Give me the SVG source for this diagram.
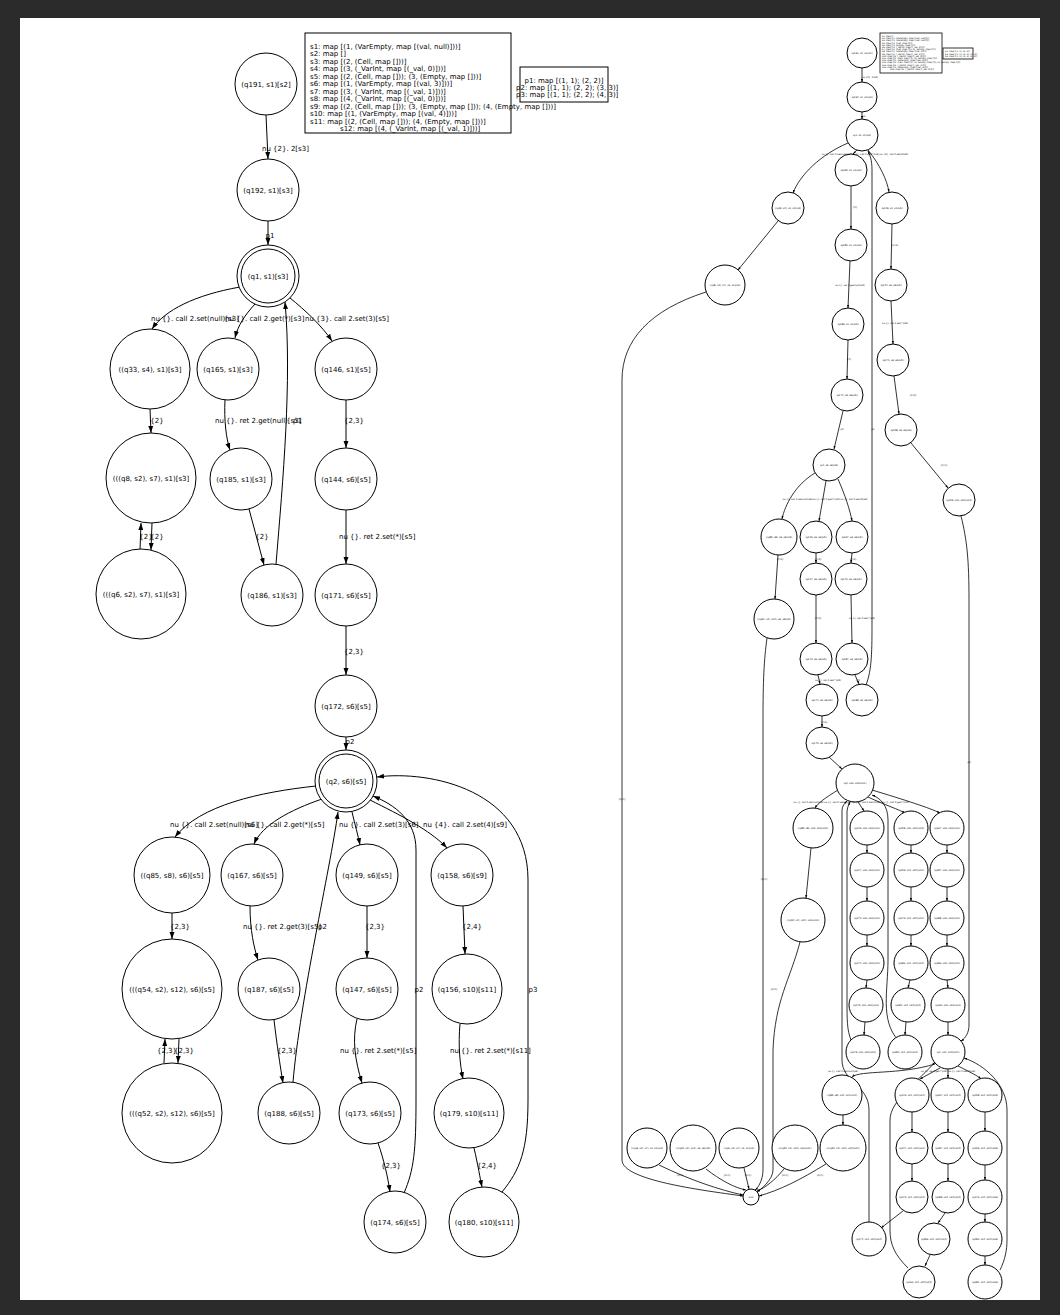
<svg xmlns="http://www.w3.org/2000/svg" width="1060" height="1315" viewBox="0 0 1060 1315">
<defs>
<marker id="a" viewBox="0 0 10 10" refX="10" refY="5" markerWidth="7" markerHeight="7" markerUnits="userSpaceOnUse" orient="auto"><path d="M0,1.5 L10,5 L0,8.5 z" fill="#000"/></marker>
<marker id="b" viewBox="0 0 10 10" refX="10" refY="5" markerWidth="3" markerHeight="3" markerUnits="userSpaceOnUse" orient="auto"><path d="M0,1.5 L10,5 L0,8.5 z" fill="#000"/></marker>
<style>
circle{fill:#fff;stroke:#000;stroke-width:1}
.e path{fill:none;stroke:#000;stroke-width:1;marker-end:url(#a)}
.r path{fill:none;stroke:#000;stroke-width:0.8;marker-end:url(#b)}
text{font-family:"DejaVu Sans","Liberation Sans",sans-serif;font-size:7px;fill:#000}
.c{text-anchor:middle}
.t{font-size:2.4px;text-anchor:middle}
.tl{font-size:2.2px}
.box{fill:#fff;stroke:#000;stroke-width:1}
</style>
</defs>
<rect x="0" y="0" width="1060" height="1315" fill="#2b2b2b"/>
<rect x="20" y="18" width="1020" height="1282" fill="#fff"/>

<g id="legend">
<rect class="box" x="305" y="33" width="206" height="100"/>
<text x="310" y="48.5">s1: map [(1, (VarEmpty, map [(val, null)]))]</text>
<text x="310" y="56">s2: map []</text>
<text x="310" y="63.5">s3: map [(2, (Cell, map []))]</text>
<text x="310" y="71">s4: map [(3, (_VarInt, map [(_val, 0)]))]</text>
<text x="310" y="78.5">s5: map [(2, (Cell, map [])); (3, (Empty, map []))]</text>
<text x="310" y="86">s6: map [(1, (VarEmpty, map [(val, 3)]))]</text>
<text x="310" y="93.5">s7: map [(3, (_VarInt, map [(_val, 1)]))]</text>
<text x="310" y="101">s8: map [(4, (_VarInt, map [(_val, 0)]))]</text>
<text x="310" y="108.5">s9: map [(2, (Cell, map [])); (3, (Empty, map [])); (4, (Empty, map []))]</text>
<text x="310" y="116">s10: map [(1, (VarEmpty, map [(val, 4)]))]</text>
<text x="310" y="123.5">s11: map [(2, (Cell, map [])); (4, (Empty, map []))]</text>
<text x="340" y="131">s12: map [(4, (_VarInt, map [(_val, 1)]))]</text>
</g>
<g id="plegend">
<rect class="box" x="520" y="67" width="88" height="35"/>
<text x="564" y="82.5" class="c">p1: map [(1, 1); (2, 2)]</text>
<text x="516" y="90">p2: map [(1, 1); (2, 2); (3, 3)]</text>
<text x="516" y="96.5">p3: map [(1, 1); (2, 2); (4, 3)]</text>
</g>

<g id="connectors" class="e">
<path d="M266,115 L268,159"/>
<path d="M268,221 L268,245"/>
<path d="M240,287 C195,295 165,310 152,329"/>
<path d="M255,304 C245,315 238,325 235,338"/>
<path d="M290,298 C305,310 322,326 332,341"/>
<path d="M276,564 C283,480 292,380 285,302"/>
<path d="M150,409 L151,433"/>
<path d="M140,550 L141,523"/>
<path d="M152,523 L151,550"/>
<path d="M225,400 C224,420 226,438 230,450"/>
<path d="M249,509 L264,565"/>
<path d="M346,400 L346,448"/>
<path d="M346,510 L346,564"/>
<path d="M346,626 L346,675"/>
<path d="M346,737 L346,750"/>
<path d="M316,786 C260,792 200,805 175,837"/>
<path d="M322,799 C290,810 262,825 254,844"/>
<path d="M352,812 C355,825 358,835 360,845"/>
<path d="M370,800 C400,815 430,830 447,848"/>
<path d="M293,1082 C300,1000 330,870 338,812"/>
<path d="M404,1193 C414,1170 416,1150 416,1100 L416,850 C416,820 395,805 373,796"/>
<path d="M502,1192 C520,1170 528,1150 528,1100 L528,880 C528,790 430,770 377,777"/>
<path d="M172,913 L172,939"/>
<path d="M164,1063 L165,1039"/>
<path d="M179,1039 L178,1063"/>
<path d="M250,906 C250,930 254,948 258,960"/>
<path d="M274,1020 C277,1045 280,1065 283,1083"/>
<path d="M367,906 L367,958"/>
<path d="M357,1019 C352,1040 355,1060 362,1083"/>
<path d="M378,1143 C384,1160 388,1178 390,1192"/>
<path d="M463,906 L465,954"/>
<path d="M460,1024 C458,1045 460,1065 463,1079"/>
<path d="M474,1148 C478,1165 480,1178 482,1187"/>
</g>
<g id="edge-labels">
<text x="262" y="150.5">nu {2}. 2[s3]</text>
<text x="270" y="237.5" class="c">p1</text>
<text x="151" y="320.5">nu {}. call 2.set(null)[s3]</text>
<text x="225" y="320.5">nu {}. call 2.get(*)[s3]</text>
<text x="305" y="320.5">nu {3}. call 2.set(3)[s5]</text>
<text x="157" y="423" class="c">{2}</text>
<text x="215" y="423">nu {}. ret 2.get(null)[s3]</text>
<text x="293" y="423">p1</text>
<text x="354" y="423" class="c">{2,3}</text>
<text x="146" y="539" class="c">{2}</text>
<text x="157" y="539" class="c">{2}</text>
<text x="262" y="539" class="c">{2}</text>
<text x="339" y="539">nu {}. ret 2.set(*)[s5]</text>
<text x="354" y="653.5" class="c">{2,3}</text>
<text x="350" y="743.5" class="c">p2</text>
<text x="170" y="826.5">nu {}. call 2.set(null)[s6]</text>
<text x="245" y="826.5">nu {}. call 2.get(*)[s5]</text>
<text x="339" y="826.5">nu {}. call 2.set(3)[s6]</text>
<text x="423" y="826.5">nu {4}. call 2.set(4)[s9]</text>
<text x="180" y="929" class="c">{2,3}</text>
<text x="243" y="929">nu {}. ret 2.get(3)[s5]</text>
<text x="318" y="929">p2</text>
<text x="375" y="929" class="c">{2,3}</text>
<text x="472" y="929" class="c">{2,4}</text>
<text x="419" y="991.5" class="c">p2</text>
<text x="533" y="991.5" class="c">p3</text>
<text x="167" y="1052.5" class="c">{2,3}</text>
<text x="184" y="1052.5" class="c">{2,3}</text>
<text x="287" y="1052.5" class="c">{2,3}</text>
<text x="340" y="1052.5">nu {}. ret 2.set(*)[s5]</text>
<text x="450" y="1052.5">nu {}. ret 2.set(*)[s11]</text>
<text x="391" y="1167.5" class="c">{2,3}</text>
<text x="487" y="1167.5" class="c">{2,4}</text>
</g>

<g id="q191"><circle cx="266" cy="84" r="31"/><text x="266" y="86.5" class="c">(q191, s1)[s2]</text></g>
<g id="q192"><circle cx="268" cy="190" r="31"/><text x="268" y="192.5" class="c">(q192, s1)[s3]</text></g>
<g id="q1"><circle cx="268" cy="276" r="31"/><circle cx="268" cy="276" r="27"/><text x="268" y="278.5" class="c">(q1, s1)[s3]</text></g>
<g id="q33"><circle cx="150" cy="369" r="40"/><text x="150" y="371.5" class="c">((q33, s4), s1)[s3]</text></g>
<g id="q165"><circle cx="228" cy="369" r="31"/><text x="228" y="371.5" class="c">(q165, s1)[s3]</text></g>
<g id="q146"><circle cx="346" cy="369" r="31"/><text x="346" y="371.5" class="c">(q146, s1)[s5]</text></g>
<g id="q8"><circle cx="151" cy="478" r="45"/><text x="151" y="480.5" class="c">(((q8, s2), s7), s1)[s3]</text></g>
<g id="q185"><circle cx="241" cy="479" r="31"/><text x="241" y="481.5" class="c">(q185, s1)[s3]</text></g>
<g id="q144"><circle cx="346" cy="479" r="31"/><text x="346" y="481.5" class="c">(q144, s6)[s5]</text></g>
<g id="q6"><circle cx="141" cy="594" r="45"/><text x="141" y="596.5" class="c">(((q6, s2), s7), s1)[s3]</text></g>
<g id="q186"><circle cx="272" cy="595" r="31"/><text x="272" y="597.5" class="c">(q186, s1)[s3]</text></g>
<g id="q171"><circle cx="346" cy="595" r="31"/><text x="346" y="597.5" class="c">(q171, s6)[s5]</text></g>
<g id="q172"><circle cx="346" cy="706" r="31"/><text x="346" y="708.5" class="c">(q172, s6)[s5]</text></g>
<g id="q2"><circle cx="346" cy="781" r="31"/><circle cx="346" cy="781" r="27"/><text x="346" y="783.5" class="c">(q2, s6)[s5]</text></g>
<g id="q85"><circle cx="172" cy="875" r="38"/><text x="172" y="877.5" class="c">((q85, s8), s6)[s5]</text></g>
<g id="q167"><circle cx="252" cy="875" r="31"/><text x="252" y="877.5" class="c">(q167, s6)[s5]</text></g>
<g id="q149"><circle cx="367" cy="875" r="31"/><text x="367" y="877.5" class="c">(q149, s6)[s5]</text></g>
<g id="q158"><circle cx="462" cy="875" r="31"/><text x="462" y="877.5" class="c">(q158, s6)[s9]</text></g>
<g id="q54"><circle cx="172" cy="989" r="50"/><text x="172" y="991.5" class="c">(((q54, s2), s12), s6)[s5]</text></g>
<g id="q187"><circle cx="269" cy="989" r="31"/><text x="269" y="991.5" class="c">(q187, s6)[s5]</text></g>
<g id="q147"><circle cx="367" cy="989" r="31"/><text x="367" y="991.5" class="c">(q147, s6)[s5]</text></g>
<g id="q156"><circle cx="467" cy="989" r="35"/><text x="467" y="991.5" class="c">(q156, s10)[s11]</text></g>
<g id="q52"><circle cx="172" cy="1113" r="50"/><text x="172" y="1115.5" class="c">(((q52, s2), s12), s6)[s5]</text></g>
<g id="q188"><circle cx="289" cy="1113" r="31"/><text x="289" y="1115.5" class="c">(q188, s6)[s5]</text></g>
<g id="q173"><circle cx="370" cy="1113" r="31"/><text x="370" y="1115.5" class="c">(q173, s6)[s5]</text></g>
<g id="q179"><circle cx="469" cy="1113" r="35"/><text x="469" y="1115.5" class="c">(q179, s10)[s11]</text></g>
<g id="q174"><circle cx="395" cy="1222" r="31"/><text x="395" y="1224.5" class="c">(q174, s6)[s5]</text></g>
<g id="q180"><circle cx="484" cy="1222" r="35"/><text x="484" y="1224.5" class="c">(q180, s10)[s11]</text></g>

<!-- right graph -->
<g id="r-legend">
<rect x="880" y="33" width="62" height="40" fill="#fff" stroke="#000" stroke-width="0.8"/>
<text class="tl" x="882" y="37">s1: map []</text>
<text class="tl" x="882" y="39.2">s2: map [(1, (VarEmpty, map [(val, null)]))]</text>
<text class="tl" x="882" y="41.4">s3: map [(1, (VarEmpty, map [(val, null)]))]</text>
<text class="tl" x="882" y="43.6">s4: map [(2, (Cell, map []))]</text>
<text class="tl" x="882" y="45.8">s5: map [(3, (Empty, map []))]</text>
<text class="tl" x="882" y="48">s6: map [(3, (_VarInt, map [(_val, 0)]))]</text>
<text class="tl" x="882" y="50.2">s7: map [(2, (Cell, map [])); (3, (Empty, map []))]</text>
<text class="tl" x="882" y="52.4">s8: map [(1, (VarEmpty, map [(val, 3)]))]</text>
<text class="tl" x="882" y="54.6">s9: map [(3, (_VarInt, map [(_val, 1)]))]</text>
<text class="tl" x="882" y="56.8">s10: map [(4, (_VarInt, map [(_val, 0)]))]</text>
<text class="tl" x="882" y="59">s11: map [(2, (Cell, map [])); (4, (Empty, map []))]</text>
<text class="tl" x="882" y="61.2">s12: map [(1, (VarEmpty, map [(val, 4)]))]</text>
<text class="tl" x="882" y="63.4">s13: map [(2, (Cell, map [])); (3, (Empty, map [])); (4, (Empty, map []))]</text>
<text class="tl" x="882" y="65.6">s14: map [(4, (_VarInt, map [(_val, 1)]))]</text>
<text class="tl" x="882" y="67.8">s15: map [(1, (VarEmpty, map [(val, 5)]))]</text>
<text class="tl" x="890" y="70">s16: map [(5, (_VarInt, map [(_val, 0)]))]</text>
<rect x="943" y="48" width="30" height="11" fill="#fff" stroke="#000" stroke-width="0.8"/>
<text class="tl" x="945" y="52">p1: map [(1, 1); (2, 2)]</text>
<text class="tl" x="945" y="54.5">p2: map [(1, 1); (2, 2); (3, 3)]</text>
<text class="tl" x="945" y="57">p3: map [(1, 1); (2, 2); (4, 3)]</text>
</g>

<g id="r-connectors" class="r">
<path d="M862,68 L862,82"/>
<path d="M862,112 L862,119"/>
<path d="M848,143 C820,155 800,175 793,193"/>
<path d="M857,150 L853,154"/>
<path d="M868,150 C880,165 887,180 889,192"/>
<path d="M866,685 C872,670 872,650 872,620 L872,170 C872,160 870,155 868,151"/>
<path d="M778,221 L738,270"/>
<path d="M706,292 C650,310 622,340 622,380 L622,1160 C622,1180 700,1190 743,1196"/>
<path d="M851,186 L851,229"/>
<path d="M850,261 L848,308"/>
<path d="M848,340 L847,379"/>
<path d="M843,411 L834,449"/>
<path d="M892,224 L891,269"/>
<path d="M891,301 L893,344"/>
<path d="M894,376 L899,414"/>
<path d="M911,443 L948,488"/>
<path d="M961,516 C967,540 969,560 969,600 L969,1025 C969,1032 966,1038 961,1041"/>
<path d="M815,473 C795,485 785,505 782,519"/>
<path d="M826,481 L819,521"/>
<path d="M838,479 C845,495 850,510 852,521"/>
<path d="M778,555 L775,599"/>
<path d="M767,638 C764,660 763,680 763,720 L763,1170 C763,1180 758,1188 755,1190"/>
<path d="M816,553 L816,563"/>
<path d="M816,595 L816,643"/>
<path d="M818,675 L820,684"/>
<path d="M822,716 L822,727"/>
<path d="M829,757 L842,769"/>
<path d="M852,553 L851,563"/>
<path d="M851,595 L852,643"/>
<path d="M855,675 L859,684"/>
<path d="M838,790 C825,798 818,803 815,808"/>
<path d="M858,802 L864,811"/>
<path d="M868,797 C885,805 900,810 905,813"/>
<path d="M872,790 C905,800 930,808 940,813"/>
<path d="M811,848 L806,898"/>
<path d="M800,942 C790,980 775,1000 773,1050 L773,1170 C773,1180 760,1190 757,1192"/>
<path d="M867,845 L867,853"/>
<path d="M867,887 L867,901"/>
<path d="M867,935 L867,946"/>
<path d="M867,980 L866,988"/>
<path d="M865,1022 L864,1035"/>
<path d="M911,845 L911,853"/>
<path d="M911,887 L911,901"/>
<path d="M911,935 L911,946"/>
<path d="M910,980 L908,988"/>
<path d="M906,1022 L905,1035"/>
<path d="M947,845 L947,853"/>
<path d="M947,887 L947,901"/>
<path d="M947,935 L947,946"/>
<path d="M947,980 L948,988"/>
<path d="M948,1022 L948,1035"/>
<path d="M869,1222 L869,1110 C869,1085 842,1082 842,1060 L842,810 C842,806 845,803 847,801"/>
<path d="M851,1040 C847,1030 847,1020 847,1000 L847,812 C847,808 849,804 850,802"/>
<path d="M898,1040 C880,1020 888,990 888,960 L888,820 C888,805 880,798 872,795"/>
<path d="M935,1064 C900,1075 860,1070 852,1077"/>
<path d="M940,1068 L920,1079"/>
<path d="M948,1069 L948,1078"/>
<path d="M958,1066 C970,1072 978,1076 981,1079"/>
<path d="M843,1115 L843,1125"/>
<path d="M912,1112 L912,1132"/>
<path d="M912,1164 L912,1181"/>
<path d="M948,1112 L948,1132"/>
<path d="M948,1164 L948,1181"/>
<path d="M985,1112 L985,1131"/>
<path d="M985,1165 L985,1180"/>
<path d="M903,1211 L881,1228"/>
<path d="M945,1213 L938,1223"/>
<path d="M930,1255 L925,1266"/>
<path d="M985,1214 L985,1222"/>
<path d="M985,1256 L985,1265"/>
<path d="M908,1268 C895,1255 890,1245 890,1230 L890,1120 C890,1100 920,1080 935,1062"/>
<path d="M1000,1270 C1005,1260 1007,1250 1007,1240 L1007,1110 C1007,1085 985,1065 964,1058"/>
<path d="M659,1165 C690,1180 720,1190 743,1195"/>
<path d="M706,1169 C720,1180 735,1188 746,1190"/>
<path d="M744,1168 L749,1189"/>
<path d="M784,1169 C775,1180 765,1188 757,1191"/>
<path d="M826,1164 C800,1180 780,1190 759,1196"/>
</g>
<g id="r-labels">
<text class="t" x="870" y="78">nu {2}. 2[s3]</text>
<text class="t" x="864" y="117">p1</text>
<text class="t" x="865" y="155">nu {}. call 2.set(null)[s3]nu {}. call 2.get(*)[s3] nu {3}. call 2.set(3)[s5]</text>
<text class="t" x="855" y="208">{2}</text>
<text class="t" x="895" y="246">{2,3}</text>
<text class="t" x="850" y="286">nu {}. ret 2.get(null)[s3]</text>
<text class="t" x="895" y="324">nu {}. ret 2.set(*)[s5]</text>
<text class="t" x="849" y="360">{2}</text>
<text class="t" x="913" y="396">{2,3}</text>
<text class="t" x="842" y="430">p2</text>
<text class="t" x="944" y="466">{2,4}</text>
<text class="t" x="873" y="430">p1</text>
<text class="t" x="825" y="500">nu {}. call 2.set(null)[s6]nu {}. call 2.get(*)[s5] nu {}. call 2.set(3)[s6]</text>
<text class="t" x="780" y="560">{2,3}</text>
<text class="t" x="818" y="560">{2,3}</text>
<text class="t" x="853" y="560">{2,3}</text>
<text class="t" x="818" y="619">{2,3}</text>
<text class="t" x="862" y="619">nu {}. ret 2.set(*)[s5]</text>
<text class="t" x="828" y="681">nu {}. ret 2.set(*)[s5]</text>
<text class="t" x="858" y="681">{2}</text>
<text class="t" x="824" y="723">{2,3}</text>
<text class="t" x="851" y="803">nu {}. call 2.set(null)[s6] nu {}. call 2.set(3)[s6] nu {4}. call 2.set(4)[s9] nu {}. call 2.get(*)[s5]</text>
<text class="t" x="969" y="763">p3</text>
<text class="t" x="843" y="1072">nu {}. call 2.set(null)[s6]</text>
<text class="t" x="948" y="1072">nu {}. ret 2.get(*)[s5] nu {}. call 2.set(4)[s9]</text>
<text class="t" x="622" y="800">{3,4}</text>
<text class="t" x="764" y="880">{3,4}</text>
<text class="t" x="774" y="990">{3,4}</text>
<text class="t" x="680" y="1176">{3,4}</text>
<text class="t" x="727" y="1176">{3,4}</text>
<text class="t" x="748" y="1176">{3,4}</text>
<text class="t" x="785" y="1176">{3,4}</text>
<text class="t" x="820" y="1176">{3,4}</text>
</g>

<g id="r-nodes">
<g id="R1"><circle cx="862" cy="53" r="15" stroke-width="0.8"/><text class="t" x="862" y="54">(q191, s1, s1)[s2]</text></g>
<g id="R2"><circle cx="862" cy="97" r="15" stroke-width="0.8"/><text class="t" x="862" y="98">(q192, s1, s1)[s3]</text></g>
<g id="R3"><circle cx="862" cy="135" r="16" stroke-width="1.6"/><text class="t" x="862" y="136">(q1, s1, s1)[s3]</text></g>
<g id="A1"><circle cx="788" cy="208" r="16" stroke-width="0.8"/><text class="t" x="788" y="209">((q33, s4), s1, s1)[s3]</text></g>
<g id="A2"><circle cx="725" cy="285" r="20" stroke-width="0.8"/><text class="t" x="725" y="286">(((q8, s2), s7), s1, s1)[s3]</text></g>
<g id="B1"><circle cx="851" cy="170" r="16" stroke-width="0.8"/><text class="t" x="851" y="171">(q165, s1, s1)[s3]</text></g>
<g id="B2"><circle cx="851" cy="245" r="16" stroke-width="0.8"/><text class="t" x="851" y="246">(q185, s1, s1)[s3]</text></g>
<g id="B3"><circle cx="848" cy="324" r="16" stroke-width="0.8"/><text class="t" x="848" y="325">(q186, s1, s1)[s3]</text></g>
<g id="B4"><circle cx="847" cy="395" r="16" stroke-width="0.8"/><text class="t" x="847" y="396">(q172, s6, s6)[s5]</text></g>
<g id="B5"><circle cx="829" cy="465" r="16" stroke-width="1.6"/><text class="t" x="829" y="466">(q2, s6, s6)[s5]</text></g>
<g id="C1"><circle cx="892" cy="208" r="16" stroke-width="0.8"/><text class="t" x="892" y="209">(q146, s1, s1)[s5]</text></g>
<g id="C2"><circle cx="891" cy="285" r="16" stroke-width="0.8"/><text class="t" x="891" y="286">(q144, s6, s6)[s5]</text></g>
<g id="C3"><circle cx="893" cy="360" r="16" stroke-width="0.8"/><text class="t" x="893" y="361">(q171, s6, s6)[s5]</text></g>
<g id="C4"><circle cx="901" cy="430" r="16" stroke-width="0.8"/><text class="t" x="901" y="431">(q158, s6, s6)[s9]</text></g>
<g id="C5"><circle cx="959" cy="500" r="16" stroke-width="0.8"/><text class="t" x="959" y="501">(q156, s10, s10)[s11]</text></g>
<g id="D1"><circle cx="779" cy="537" r="18" stroke-width="0.8"/><text class="t" x="779" y="538">((q85, s8), s6, s6)[s5]</text></g>
<g id="D2"><circle cx="774" cy="619" r="20" stroke-width="0.8"/><text class="t" x="774" y="620">(((q54, s2), s12), s6, s6)[s5]</text></g>
<g id="E1"><circle cx="816" cy="537" r="16" stroke-width="0.8"/><text class="t" x="816" y="538">(q149, s6, s6)[s5]</text></g>
<g id="E2"><circle cx="816" cy="579" r="16" stroke-width="0.8"/><text class="t" x="816" y="580">(q147, s6, s6)[s5]</text></g>
<g id="E3"><circle cx="816" cy="659" r="16" stroke-width="0.8"/><text class="t" x="816" y="660">(q173, s6, s6)[s5]</text></g>
<g id="E4"><circle cx="822" cy="700" r="16" stroke-width="0.8"/><text class="t" x="822" y="701">(q174, s6, s6)[s5]</text></g>
<g id="E5"><circle cx="822" cy="743" r="16" stroke-width="0.8"/><text class="t" x="822" y="744">(q175, s6, s6)[s5]</text></g>
<g id="F1"><circle cx="852" cy="537" r="16" stroke-width="0.8"/><text class="t" x="852" y="538">(q167, s6, s6)[s5]</text></g>
<g id="F2"><circle cx="851" cy="579" r="16" stroke-width="0.8"/><text class="t" x="851" y="580">(q170, s6, s6)[s5]</text></g>
<g id="F3"><circle cx="852" cy="659" r="16" stroke-width="0.8"/><text class="t" x="852" y="660">(q187, s6, s6)[s5]</text></g>
<g id="F4"><circle cx="862" cy="700" r="16" stroke-width="0.8"/><text class="t" x="862" y="701">(q188, s6, s6)[s5]</text></g>
<g id="G"><circle cx="855" cy="783" r="19" stroke-width="1.6"/><text class="t" x="855" y="784">(q3, s10, s10)[s11]</text></g>
<g id="H1"><circle cx="813" cy="828" r="20" stroke-width="0.8"/><text class="t" x="813" y="829">((q85, s8), s10, s10)[s11]</text></g>
<g id="H2"><circle cx="803" cy="920" r="22" stroke-width="0.8"/><text class="t" x="803" y="921">(((q54, s2), s12), s10)[s11]</text></g>
<g id="I1"><circle cx="867" cy="828" r="17" stroke-width="0.8"/><text class="t" x="867" y="829">(q149, s10, s10)[s11]</text></g>
<g id="I2"><circle cx="867" cy="870" r="17" stroke-width="0.8"/><text class="t" x="867" y="871">(q147, s10, s10)[s11]</text></g>
<g id="I3"><circle cx="867" cy="918" r="17" stroke-width="0.8"/><text class="t" x="867" y="919">(q173, s10, s10)[s11]</text></g>
<g id="I4"><circle cx="867" cy="963" r="17" stroke-width="0.8"/><text class="t" x="867" y="964">(q174, s10, s10)[s11]</text></g>
<g id="I5"><circle cx="866" cy="1005" r="17" stroke-width="0.8"/><text class="t" x="866" y="1006">(q175, s10, s10)[s11]</text></g>
<g id="I6"><circle cx="863" cy="1052" r="17" stroke-width="0.8"/><text class="t" x="863" y="1053">(q176, s10, s10)[s11]</text></g>
<g id="J1"><circle cx="911" cy="828" r="17" stroke-width="0.8"/><text class="t" x="911" y="829">(q158, s10, s10)[s13]</text></g>
<g id="J2"><circle cx="911" cy="870" r="17" stroke-width="0.8"/><text class="t" x="911" y="871">(q156, s12, s12)[s14]</text></g>
<g id="J3"><circle cx="911" cy="918" r="17" stroke-width="0.8"/><text class="t" x="911" y="919">(q179, s12, s12)[s14]</text></g>
<g id="J4"><circle cx="911" cy="963" r="17" stroke-width="0.8"/><text class="t" x="911" y="964">(q180, s12, s12)[s14]</text></g>
<g id="J5"><circle cx="908" cy="1005" r="17" stroke-width="0.8"/><text class="t" x="908" y="1006">(q181, s12, s12)[s14]</text></g>
<g id="J6"><circle cx="905" cy="1052" r="17" stroke-width="0.8"/><text class="t" x="905" y="1053">(q182, s12, s12)[s14]</text></g>
<g id="K1"><circle cx="947" cy="828" r="17" stroke-width="0.8"/><text class="t" x="947" y="829">(q167, s10, s10)[s11]</text></g>
<g id="K2"><circle cx="947" cy="870" r="17" stroke-width="0.8"/><text class="t" x="947" y="871">(q187, s10, s10)[s11]</text></g>
<g id="K3"><circle cx="947" cy="918" r="17" stroke-width="0.8"/><text class="t" x="947" y="919">(q188, s10, s10)[s11]</text></g>
<g id="K4"><circle cx="947" cy="963" r="17" stroke-width="0.8"/><text class="t" x="947" y="964">(q189, s10, s10)[s11]</text></g>
<g id="K5"><circle cx="948" cy="1005" r="17" stroke-width="0.8"/><text class="t" x="948" y="1006">(q190, s10, s10)[s11]</text></g>
<g id="L"><circle cx="948" cy="1052" r="17" stroke-width="1.6"/><text class="t" x="948" y="1053">(q4, s12, s12)[s14]</text></g>
<g id="M1"><circle cx="842" cy="1095" r="20" stroke-width="0.8"/><text class="t" x="842" y="1096">((q85, s8), s12, s12)[s14]</text></g>
<g id="N1"><circle cx="912" cy="1095" r="17" stroke-width="0.8"/><text class="t" x="912" y="1096">(q149, s12, s12)[s14]</text></g>
<g id="N2"><circle cx="912" cy="1148" r="16" stroke-width="0.8"/><text class="t" x="912" y="1149">(q147, s12, s12)[s14]</text></g>
<g id="N3"><circle cx="912" cy="1197" r="16" stroke-width="0.8"/><text class="t" x="912" y="1198">(q173, s12, s12)[s14]</text></g>
<g id="O1"><circle cx="948" cy="1095" r="17" stroke-width="0.8"/><text class="t" x="948" y="1096">(q167, s12, s12)[s14]</text></g>
<g id="O2"><circle cx="948" cy="1148" r="16" stroke-width="0.8"/><text class="t" x="948" y="1149">(q187, s12, s12)[s14]</text></g>
<g id="O3"><circle cx="948" cy="1197" r="16" stroke-width="0.8"/><text class="t" x="948" y="1198">(q188, s12, s12)[s14]</text></g>
<g id="O4"><circle cx="934" cy="1239" r="16" stroke-width="0.8"/><text class="t" x="934" y="1240">(q189, s12, s12)[s14]</text></g>
<g id="O5"><circle cx="919" cy="1282" r="16" stroke-width="0.8"/><text class="t" x="919" y="1283">(q190, s12, s12)[s14]</text></g>
<g id="P1"><circle cx="985" cy="1095" r="17" stroke-width="0.8"/><text class="t" x="985" y="1096">(q158, s12, s12)[s15]</text></g>
<g id="P2"><circle cx="985" cy="1148" r="17" stroke-width="0.8"/><text class="t" x="985" y="1149">(q156, s14, s14)[s16]</text></g>
<g id="P3"><circle cx="985" cy="1197" r="17" stroke-width="0.8"/><text class="t" x="985" y="1198">(q179, s14, s14)[s16]</text></g>
<g id="P4"><circle cx="985" cy="1239" r="17" stroke-width="0.8"/><text class="t" x="985" y="1240">(q180, s14, s14)[s16]</text></g>
<g id="P5"><circle cx="985" cy="1282" r="17" stroke-width="0.8"/><text class="t" x="985" y="1283">(q181, s14, s14)[s16]</text></g>
<g id="Q"><circle cx="869" cy="1239" r="17" stroke-width="0.8"/><text class="t" x="869" y="1240">(q174, s12, s12)[s14]</text></g>
<g id="S1"><circle cx="647" cy="1148" r="20" stroke-width="0.8"/><text class="t" x="647" y="1149">((((q6, s2), s7), s1, s1)[s3]</text></g>
<g id="S2"><circle cx="693" cy="1148" r="23" stroke-width="0.8"/><text class="t" x="693" y="1149">((((q52, s2), s12), s6, s6)[s5]</text></g>
<g id="S3"><circle cx="739" cy="1148" r="20" stroke-width="0.8"/><text class="t" x="739" y="1149">(((q9, s2), s7), s1, s1)[s3]</text></g>
<g id="S4"><circle cx="795" cy="1148" r="23" stroke-width="0.8"/><text class="t" x="795" y="1149">((((q52, s2), s12), s10)[s11]</text></g>
<g id="S5"><circle cx="843" cy="1148" r="23" stroke-width="0.8"/><text class="t" x="843" y="1149">((((q54, s2), s12), s12)[s14]</text></g>
<g id="SINK"><circle cx="751" cy="1197" r="8" stroke-width="0.8"/><text class="t" x="751" y="1198">sink</text></g>
</g>
</svg>
